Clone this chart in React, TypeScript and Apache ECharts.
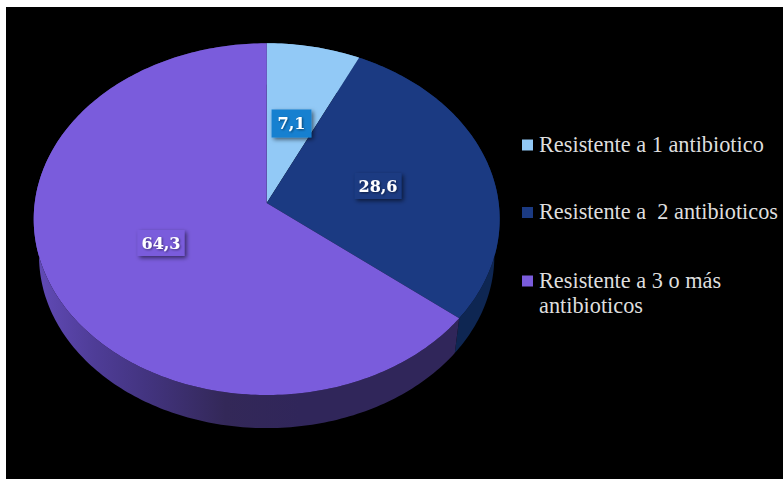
import React, { useEffect, useRef } from "react";
import * as echarts from "echarts";

const categories = ["Resistente a 1 antibiotico", "Resistente a  2 antibioticos", "Resistente a 3 o más\nantibioticos"];
const values = [7.1, 28.6, 64.3];
const valueLabels = ["7,1", "28,6", "64,3"];

const sliceColors = ["#92c9f6", "#1b3a82", "#7a5cdc"];
const labelBoxColors = ["#1580d0", "#1b3a82", "#7a5cdc"];

// Disc projection: a unit circle seen in perspective, apex at (CX, CY)
const CX = 266.7;
const CY = 203;
const AX = 232;
const AY = 174.4;
const K = 0.0918;
// The underside of the disc is a little smaller and sits lower
const BASE_SCALE = 0.977;
const BASE_DROP = 37.5;

const labelCenters = [
  [291.5, 123.5],
  [378, 186],
  [161, 243],
];
const legendRows = [145, 212.5, 281];

function project(deg: number, r: number, scale = 1, drop = 0): number[] {
  const a = (deg * Math.PI) / 180;
  const u = r * Math.sin(a);
  const v = r * Math.cos(a);
  const w = 1 + K * v;
  return [CX + (scale * AX * u) / w, CY + drop - (scale * AY * v) / w];
}

const total = values.reduce((s, v) => s + v, 0);

function sliceAngles(index: number): number[] {
  const before = values.slice(0, index).reduce((s, v) => s + v, 0);
  return [(before / total) * 360, ((before + values[index]) / total) * 360];
}

function arcAngles(start: number, end: number): number[] {
  const out: number[] = [];
  for (let d = start; d < end; d += 1) out.push(d);
  out.push(end);
  return out;
}

function sideFill(index: number) {
  if (index === 2) {
    return new echarts.graphic.LinearGradient(
      34, 0, 300, 0,
      [
        { offset: 0, color: "#624bb8" },
        { offset: 0.22, color: "#4f3d98" },
        { offset: 0.42, color: "#433480" },
        { offset: 0.72, color: "#332858" },
        { offset: 1, color: "#30265a" },
      ],
      true,
    );
  }
  return index === 1 ? "#0e2652" : "#5f89ad";
}

function renderSide(params: any) {
  const i = params.dataIndex;
  const [s, e] = sliceAngles(i);
  const angles = arcAngles(s, e);
  const top = angles.map((d) => project(d, 1));
  const base = angles.map((d) => project(d, 1, BASE_SCALE, BASE_DROP)).reverse();
  return {
    type: "polygon",
    shape: { points: [...top, ...base] },
    style: { fill: sideFill(i) },
  };
}

function renderTop(params: any) {
  const i = params.dataIndex;
  const [s, e] = sliceAngles(i);
  const rim = arcAngles(s, e).map((d) => project(d, 1));
  return {
    type: "polygon",
    shape: { points: [project(0, 0), ...rim] },
    style: { fill: sliceColors[i] },
  };
}

function renderLabel(params: any) {
  const i = params.dataIndex;
  const [x, y] = labelCenters[i];
  return {
    type: "text",
    style: {
      text: valueLabels[i],
      x,
      y,
      align: "center",
      verticalAlign: "middle",
      fill: "#ffffff",
      font: 'bold 16px "DejaVu Serif"',
      backgroundColor: labelBoxColors[i],
      padding: i === 0 ? [6, 6, 6, 6] : [5, 4, 5, 4],
      shadowColor: "rgba(0,0,0,0.55)",
      shadowBlur: 4,
      shadowOffsetX: 2,
      shadowOffsetY: 2,
      textShadowColor: "rgba(0,0,0,0.5)",
      textShadowBlur: 2,
      textShadowOffsetX: 1,
      textShadowOffsetY: 1,
    },
  };
}

const legendGraphics = categories.flatMap((name, i) => [
  {
    type: "rect",
    shape: { x: 522, y: legendRows[i] - 5.5, width: 11, height: 11 },
    style: { fill: sliceColors[i] },
    z: 5,
  },
  {
    type: "text",
    x: 539,
    y: legendRows[i] - 13.5,
    style: {
      text: name,
      fill: "#dedede",
      font: '22.3px "Liberation Serif"',
      lineHeight: 25,
      align: "left",
      verticalAlign: "top",
    },
    z: 5,
  },
]);

export default function App() {
  const ref = useRef<HTMLDivElement>(null);

  useEffect(() => {
    document.body.style.margin = "0";
    document.body.style.background = "#ffffff";
    const chart = echarts.init(ref.current!, undefined, { renderer: "svg" });
    chart.setOption({
      animation: false,
      backgroundColor: "#ffffff",
      graphic: [
        {
          type: "rect",
          shape: { x: 6, y: 7, width: 777, height: 472 },
          style: { fill: "#000000" },
          z: -10,
        },
        ...legendGraphics,
      ],
      series: [
        { type: "custom", coordinateSystem: "none", z: 1, silent: true, data: values, renderItem: renderSide },
        { type: "custom", coordinateSystem: "none", z: 2, silent: true, data: values, renderItem: renderTop },
        { type: "custom", coordinateSystem: "none", z: 3, silent: true, data: values, renderItem: renderLabel },
      ],
    });
    return () => chart.dispose();
  }, []);

  return <div ref={ref} style={{ width: 783, height: 479 }} />;
}
